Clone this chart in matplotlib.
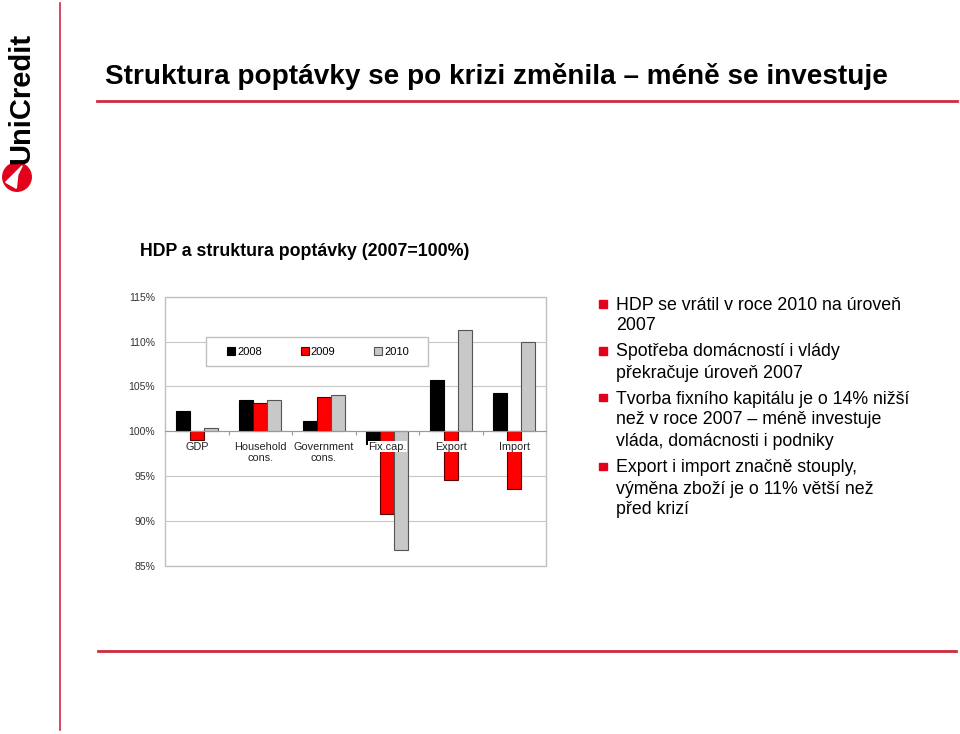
import matplotlib
matplotlib.use("Agg")
import matplotlib.pyplot as plt
import numpy as np
from matplotlib.patches import Rectangle, Circle, Polygon
from matplotlib.lines import Line2D

plt.rcParams['font.family'] = ['Liberation Sans', 'DejaVu Sans']

categories = ["GDP", "Household\ncons.", "Government\ncons.", "Fix.cap.", "Export", "Import"]
series_names = ["2008", "2009", "2010"]
v2008 = [102.3, 103.5, 101.1, 98.6, 105.7, 104.3]
v2009 = [99.0, 103.2, 103.8, 90.8, 94.6, 93.6]
v2010 = [100.4, 103.5, 104.0, 86.7, 111.3, 110.0]
yticks = [85, 90, 95, 100, 105, 110, 115]
ytick_labels = ["85%", "90%", "95%", "100%", "105%", "110%", "115%"]

title = "Struktura poptávky se po krizi změnila – méně se investuje"
subtitle = "HDP a struktura poptávky (2007=100%)"
bullets = [
    ["HDP se vrátil v roce 2010 na úroveň", "2007"],
    ["Spotřeba domácností i vlády", "překračuje úroveň 2007"],
    ["Tvorba fixního kapitálu je o 14% nižší", "než v roce 2007 – méně investuje", "vláda, domácnosti i podniky"],
    ["Export i import značně stouply,", "výměna zboží je o 11% větší než", "před krizí"],
]

W, H = 960, 734
fig = plt.figure(figsize=(W / 100, H / 100), dpi=100)
fig.patch.set_facecolor("white")

def fx(px):
    return px / W

def fy(py):
    return 1 - py / H

red_line = "#cf2a3f"

# decorative lines
fig.add_artist(Line2D([fx(60), fx(60)], [fy(3), fy(730)], color=red_line, lw=1.2))
fig.add_artist(Line2D([fx(97), fx(957)], [fy(101), fy(101)], color=red_line, lw=2.0))
fig.add_artist(Line2D([fx(98), fx(956)], [fy(651), fy(651)], color=red_line, lw=2.0))

# logo
fig.text(fx(21), fy(98), "UniCredit", rotation=90, ha="center", va="center",
         fontsize=21, fontweight="bold", color="black")
logo_ax = fig.add_axes([fx(2), fy(192), fx(30), 30 / H])
logo_ax.set_xlim(-1, 1)
logo_ax.set_ylim(-1, 1)
logo_ax.set_aspect("equal")
logo_ax.axis("off")
logo_ax.add_patch(Circle((0, 0), 0.95, color="#e2001a"))
logo_ax.add_patch(Polygon([(-0.75, -0.35), (0.35, 0.75), (0.05, 0.15), (-0.05, -0.75)],
                          closed=True, color="white"))

# titles
fig.text(fx(105), fy(76), title, ha="left", va="center", fontsize=20.1,
         fontweight="bold", color="black")
fig.text(fx(140), fy(252), subtitle, ha="left", va="center", fontsize=12.8,
         fontweight="bold", color="black")

# chart
ax = fig.add_axes([fx(165), fy(565.7), fx(546) - fx(165), (565.7 - 296.7) / H])
x = np.arange(len(categories))
w = 0.22
cols = ["black", "#ff0000", "#c8c8c8"]
edges = ["black", "#5a0000", "#555555"]
for j, vals in enumerate([v2008, v2009, v2010]):
    vals = np.array(vals)
    ax.bar(x + (j - 1) * w, vals - 100, bottom=100, width=w, color=cols[j],
           edgecolor=edges[j], linewidth=0.8, label=series_names[j], zorder=3)

ax.set_xlim(-0.5, len(categories) - 0.5)
ax.set_ylim(85, 115)
ax.set_yticks(yticks)
ax.set_yticklabels(ytick_labels)
ax.tick_params(axis="y", length=0, labelsize=7.5, labelcolor="#333333", pad=7)
for s in ["left", "right", "top"]:
    ax.spines[s].set_visible(False)
ax.spines["bottom"].set_position(("data", 100))
ax.spines["bottom"].set_color("#999999")
ax.spines["bottom"].set_zorder(4)
ax.add_patch(Rectangle((0, 0), 1, 1, transform=ax.transAxes, fill=False,
                       edgecolor="#c0c0c0", lw=1.0, zorder=2, clip_on=False))
ax.set_xticks(x[:-1] + 0.5)
ax.set_xticklabels([])
ax.tick_params(axis="x", direction="out", length=3, color="#999999")
ax.yaxis.grid(True, color="#c8c8c8", lw=0.8, zorder=0)
ax.set_axisbelow(True)

for i, c in enumerate(categories):
    ax.annotate(c, (i, 100), xytext=(0, -7.5), textcoords="offset points",
                ha="center", va="top", fontsize=7.8, color="#222222",
                linespacing=1.15, zorder=6,
                bbox=dict(boxstyle="square,pad=0.05", fc="white", ec="none"))

# legend box
ax.add_patch(Rectangle((0.1076, 0.742), 0.690 - 0.1076, 0.108, transform=ax.transAxes,
                       fc="white", ec="#c0c0c0", lw=1.0, zorder=6))
leg = ax.legend(loc="center left", bbox_to_anchor=(0.163, 0.796), ncol=3,
                fontsize=8, frameon=False,
                handlelength=0.7, handleheight=0.7, handletextpad=0.2,
                columnspacing=3.5, borderpad=0, borderaxespad=0)
leg.set_zorder(7)

# bullets
bullet_line_y = [[304, 325], [351, 372], [398, 419, 440], [467, 488, 509]]
for lines, ys in zip(bullets, bullet_line_y):
    fig.add_artist(Rectangle((fx(599), fy(ys[0] + 3.5)), fx(7.5), 7.5 / H,
                             color="#e2001a"))
    for t, yy in zip(lines, ys):
        fig.text(fx(616), fy(yy + 5.5), t, ha="left", va="baseline", fontsize=12.8,
                 color="black")

fig.savefig("out.png", dpi=100, facecolor="white")
